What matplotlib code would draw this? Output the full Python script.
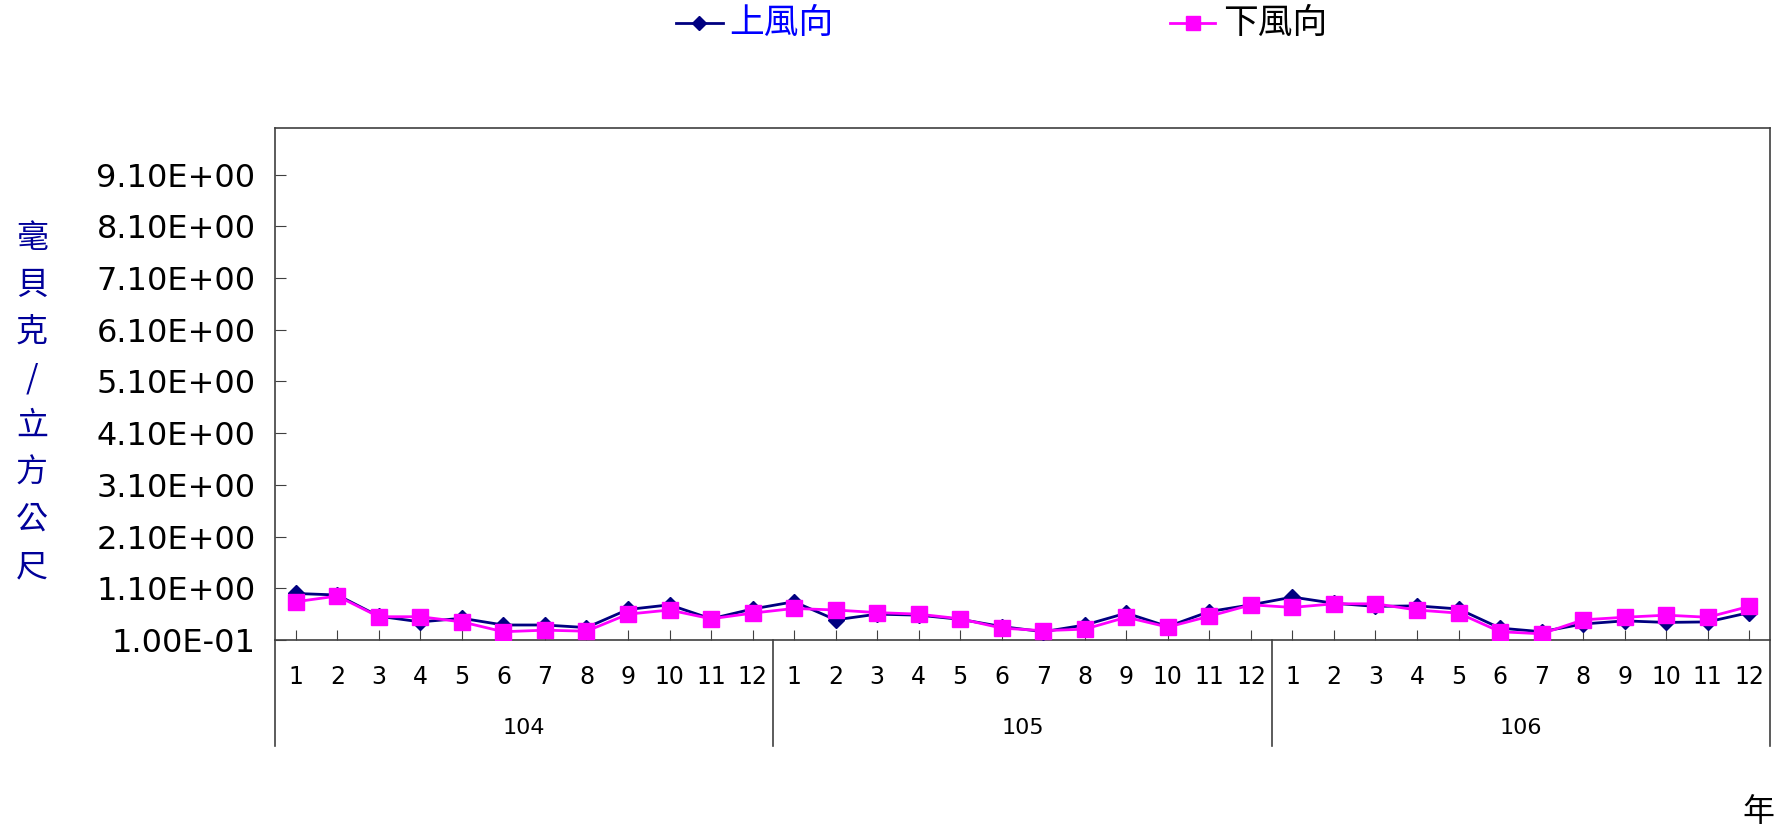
import numpy as np
import matplotlib
matplotlib.use('Agg')
from matplotlib import pyplot as plt
from matplotlib.ticker import FormatStrFormatter
from matplotlib.lines import Line2D

plt.rcParams['font.family'] = ['DejaVu Sans', 'Noto Sans CJK TC']

# 資料 (104~106 年, 每月)
anos = ['104', '105', '106']
meses = [str(m) for m in range(1, 13)]
up_wind = [1.00, 0.97, 0.56, 0.45, 0.52, 0.39, 0.39, 0.34, 0.69, 0.78, 0.51, 0.70,
           0.84, 0.49, 0.60, 0.58, 0.50, 0.36, 0.26, 0.39, 0.62, 0.36, 0.65, 0.78,
           0.93, 0.81, 0.75, 0.76, 0.70, 0.33, 0.26, 0.41, 0.47, 0.44, 0.45, 0.63]
down_wind = [0.84, 0.95, 0.55, 0.55, 0.45, 0.26, 0.29, 0.27, 0.60, 0.68, 0.51, 0.62,
             0.71, 0.68, 0.63, 0.60, 0.51, 0.33, 0.28, 0.31, 0.54, 0.35, 0.56, 0.78,
             0.73, 0.80, 0.80, 0.68, 0.62, 0.26, 0.22, 0.49, 0.54, 0.58, 0.54, 0.75]
y_ticks = [0.1 + i for i in range(10)]

W, H = 1781, 831
fig = plt.figure(figsize=(W / 100, H / 100), dpi=100)
ax = fig.add_axes([275 / W, 1 - 640 / H, 1495 / W, 512 / H])

x = np.arange(len(up_wind))
ax.plot(x, up_wind, color='#000080', lw=2, marker='D', ms=8, zorder=3)
ax.plot(x, down_wind, color='#FF00FF', lw=2, marker='s', ms=11, zorder=4)

ax.set_xlim(-0.5, len(up_wind) - 0.5)
ax.set_ylim(0.1, 10.0)
ax.set_yticks(y_ticks)
ax.yaxis.set_major_formatter(FormatStrFormatter('%.2E'))
ax.tick_params(axis='y', direction='in', length=8, labelsize=23, pad=14, color='#404040')
ax.set_xticks(x)
ax.set_xticklabels(meses * len(anos))
ax.tick_params(axis='x', direction='in', length=7, labelsize=17, pad=18, color='#404040')
for s in ax.spines.values():
    s.set_color('#404040')
    s.set_linewidth(1.2)

# Área de categorias (anos)
trans = ax.get_xaxis_transform()
y_bot = -(746 - 640) / 512
for xs in [-0.5, 11.5, 23.5, 35.5]:
    ax.plot([xs, xs], [0, y_bot], transform=trans, color='#404040', lw=1.2, clip_on=False)
for i, a in enumerate(anos):
    ax.text(i * 12 + 5.5, -(728 - 640) / 512, a, transform=trans, ha='center', va='center', fontsize=16)

# Rótulo do eixo y (vertical)
ylabel = '毫貝克/立方公尺'
for i, ch in enumerate(ylabel):
    fig.text(32 / W, 1 - (238 + i * 47) / H, ch, ha='center', va='center', fontsize=23,
             color='#000099', family=['Noto Sans CJK TC', 'DejaVu Sans'])

fig.text(1758 / W, 1 - 812 / H, '年', ha='center', va='center', fontsize=23,
         family=['Noto Sans CJK TC', 'DejaVu Sans'])

# Legenda
fig.add_artist(Line2D([676 / W, 699.5 / W, 723 / W], [1 - 23 / H] * 3, color='#000080', lw=2,
                      marker='D', ms=7, markevery=[1], transform=fig.transFigure))
fig.text(729 / W, 1 - 23 / H, '上風向', ha='left', va='center', fontsize=25, color='#0000FF',
         family=['Noto Sans CJK TC', 'DejaVu Sans'])
fig.add_artist(Line2D([1170 / W, 1192.5 / W, 1215 / W], [1 - 23 / H] * 3, color='#FF00FF', lw=2,
                      marker='s', ms=10, markevery=[1], transform=fig.transFigure))
fig.text(1223 / W, 1 - 23 / H, '下風向', ha='left', va='center', fontsize=25, color='black',
         family=['Noto Sans CJK TC', 'DejaVu Sans'])

fig.savefig('out.png', dpi=100)
